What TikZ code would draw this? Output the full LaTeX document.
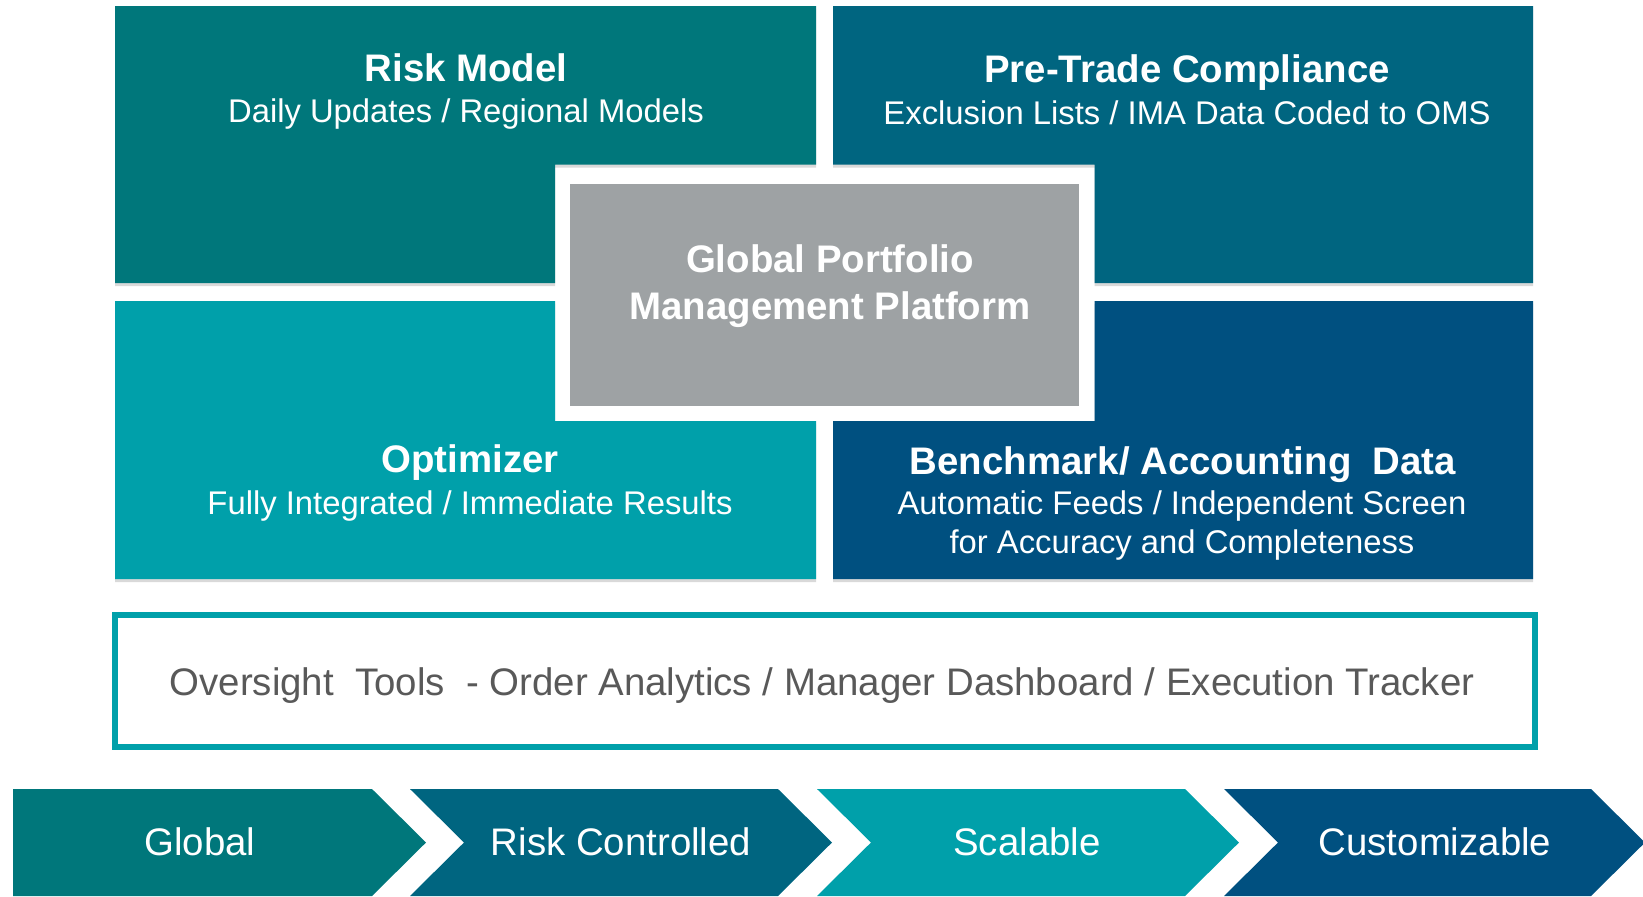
\documentclass[tikz,border=0pt]{standalone}
\usepackage{fontspec}
\setmainfont{Liberation Sans}
\usetikzlibrary{shadows, positioning}
\definecolor{tealdark}{RGB}{0,119,123}
\definecolor{petrol}{RGB}{0,101,128}
\definecolor{tealight}{RGB}{0,160,170}
\definecolor{navy}{RGB}{0,80,128}
\definecolor{platgray}{RGB}{158,162,164}
\definecolor{toolgray}{RGB}{89,89,89}
\tikzset{
	every node/.style={
		text=white,
		inner sep=0pt
	},
	boxtitle/.style={
		font=\fontsize{19.2}{23}\selectfont\bfseries,
		anchor=base
	},
	boxsub/.style={
		font=\fontsize{16.4}{20}\selectfont,
		anchor=base
	},
	blockshadow/.style={
		drop shadow={shadow xshift=0pt, shadow yshift=-1.5pt, opacity=0.25, fill=black!60}
	},
	chevtext/.style={
		font=\fontsize{19.2}{23}\selectfont,
		anchor=base
	}
}

\begin{document}
\begin{tikzpicture}[x=0.5pt, y=-0.5pt]
	\useasboundingbox (0,0) rectangle (1643,896);
	
	% four blocks round the platform
	\fill[tealdark, blockshadow] (115,6) -- (816,6) -- (816,164.5) -- (555,164.5) -- (555,283) -- (115,283) -- cycle;
	\fill[petrol, blockshadow] (833,6) -- (1533,6) -- (1533,283) -- (1094.5,283) -- (1094.5,164.5) -- (833,164.5) -- cycle;
	\fill[tealight, blockshadow] (115,301) -- (555,301) -- (555,421) -- (816,421) -- (816,579) -- (115,579) -- cycle;
	\fill[navy, blockshadow] (1094.5,301) -- (1533,301) -- (1533,579) -- (833,579) -- (833,421) -- (1094.5,421) -- cycle;
	
	\fill[platgray] (570,184) rectangle (1079,406);
	
	\node[boxtitle] (risk-title) at (466,81) {Risk Model};
	\node[boxsub] (risk-sub) at (466,122) {Daily Updates / Regional Models};
	
	\node[boxtitle] (comp-title) at (1187,82.5) {Pre-Trade Compliance};
	\node[boxsub] (comp-sub) at (1187,124.5) {Exclusion Lists / IMA Data Coded to OMS};
	
	\node[boxtitle] (opt-title) at (470,472.5) {Optimizer};
	\node[boxsub] (opt-sub) at (470,514) {Fully Integrated / Immediate Results};
	
	\node[boxtitle] (bench-title) at (1183,474.5) {Benchmark/ Accounting~ Data};
	\node[boxsub] (bench-sub) at (1182,514) {Automatic Feeds / Independent Screen};
	\node[boxsub] (bench-sub2) at (1182,553) {for Accuracy and Completeness};
	
	\node[boxtitle] (plat-1) at (830,272.5) {Global Portfolio};
	\node[boxtitle] (plat-2) at (830,319) {Management Platform};
	
	% oversight bar
	\draw[tealight, line width=3pt, fill=white, blockshadow] (115,614.5) rectangle (1535,747);
	\node[chevtext, text=toolgray] (tools) at (822,695) {Oversight~ Tools~ - Order Analytics / Manager Dashboard / Execution Tracker};
	
	% chevrons
	\foreach \links/\rechts/\notch/\kleur/\tx/\naam/\tekst in {
		13/372/0/tealdark/200/glob/Global,
		410/778/54/petrol/621/risk/Risk Controlled,
		817/1185/54/tealight/1027/scal/Scalable,
		1224/1591/54/navy/1435/cust/Customizable} {
		\fill[\kleur] (\links,789) -- (\rechts,789) -- (\rechts+54,842.5) -- (\rechts,896) -- (\links,896) -- (\links+\notch,842.5) -- cycle;
		\node[chevtext] (chev-\naam) at (\tx,855) {\tekst};
	}
	
\end{tikzpicture}
\end{document}
